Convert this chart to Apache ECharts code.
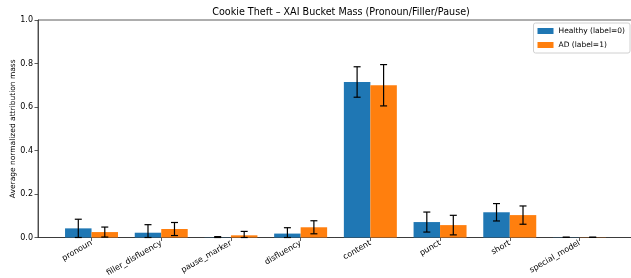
<!DOCTYPE html>
<html><head><meta charset="utf-8">
<script src="https://cdn.jsdelivr.net/npm/echarts@6/dist/echarts.min.js"></script>
<style>html,body{margin:0;padding:0;background:#fff}#c{width:631px;height:278px}</style>
</head><body><div id="c"></div>
<script>
const categories = ['pronoun','filler_disfluency','pause_marker','disfluency','content','punct','short','special_model'];
const healthyMean = [0.042, 0.022, 0.001, 0.018, 0.715, 0.071, 0.116, 0.001];
const healthyStd  = [0.042, 0.037, 0.003, 0.027, 0.070, 0.046, 0.040, 0.000];
const adMean      = [0.025, 0.039, 0.010, 0.047, 0.700, 0.057, 0.103, 0.001];
const adStd       = [0.023, 0.030, 0.018, 0.030, 0.095, 0.045, 0.042, 0.000];
const yTicks = [0, 0.2, 0.4, 0.6, 0.8, 1.0];
const seriesNames = ['Healthy (label=0)', 'AD (label=1)'];
const colors = ['#1f77b4', '#ff7f0e'];
const BAR_W = 0.38;

function barSeries(name, means, offset, color){
  return {
    type:'custom', name:name, itemStyle:{color:color},
    data: means.map((v,i)=>[i, v]),
    encode:{x:0,y:1},
    renderItem:function(params, api){
      const x = api.value(0) + offset, v = api.value(1);
      const p0 = api.coord([x - BAR_W/2, v]);
      const p1 = api.coord([x + BAR_W/2, 0]);
      return {type:'rect', shape:{x:p0[0], y:p0[1], width:p1[0]-p0[0], height:p1[1]-p0[1]},
        style:{fill:color}};
    }
  };
}
function errSeries(means, stds, offset){
  return {
    type:'custom', silent:true, z:5,
    data: means.map((v,i)=>[i, v, stds[i]]),
    renderItem:function(params, api){
      const x = api.value(0) + offset, v = api.value(1), e = api.value(2);
      const top = api.coord([x, Math.min(1, v + e)]);
      const bot = api.coord([x, Math.max(0, v - e)]);
      const cap = 3.5;
      const st = {stroke:'#000', lineWidth:1.2};
      return {type:'group', children:[
        {type:'line', shape:{x1:top[0], y1:top[1], x2:bot[0], y2:bot[1]}, style:st},
        {type:'line', shape:{x1:top[0]-cap, y1:top[1], x2:top[0]+cap, y2:top[1]}, style:st},
        {type:'line', shape:{x1:bot[0]-cap, y1:bot[1], x2:bot[0]+cap, y2:bot[1]}, style:st}
      ]};
    }
  };
}

const chart = echarts.init(document.getElementById('c'), null, {renderer:'canvas'});
chart.setOption({
  animation:false,
  textStyle:{fontFamily:'DejaVu Sans'},
  title:{text:'Cookie Theft – XAI Bucket Mass (Pronoun/Filler/Pause)', left:336, top:2, textAlign:'center',
    textStyle:{fontFamily:'DejaVu Sans', fontSize:9.6, fontWeight:'normal', color:'#000'}},
  legend:{
    orient:'vertical', right:1, top:23,
    data: seriesNames.map((n,i)=>({name:n, icon:'rect', itemStyle:{color:colors[i]}})),
    itemWidth:16, itemHeight:6, itemGap:6,
    padding:[4,5,4,4],
    backgroundColor:'#fff', borderColor:'#d0d0d0', borderWidth:1, borderRadius:2,
    textStyle:{fontFamily:'DejaVu Sans', fontSize:7.5, color:'#000', padding:[0,0,0,0]}
  },
  grid:{left:38, right:-2, top:20, bottom:40.5, outerBoundsMode:'none', containLabel:false,
    show:true, borderColor:'#333', borderWidth:0.8, backgroundColor:'transparent'},
  xAxis:{
    type:'value', min:-0.768, max:7.768,
    axisLine:{show:true, onZero:false, lineStyle:{color:'#333', width:0.8}},
    axisTick:{show:true, customValues:categories.map((c,i)=>i), length:3.5, lineStyle:{color:'#333', width:0.8}},
    splitLine:{show:false},
    axisLabel:{customValues:categories.map((c,i)=>i), formatter:(v)=>categories[Math.round(v)], rotate:30, margin:5,
      fontFamily:'DejaVu Sans', fontSize:8, color:'#000'}
  },
  yAxis:{
    type:'value', min:0, max:1, interval:0.2,
    name:'Average normalized attribution mass', nameLocation:'middle', nameGap:21, nameMoveOverlap:false,
    nameTextStyle:{fontFamily:'DejaVu Sans', fontSize:7.5, color:'#000'},
    axisLine:{show:true, onZero:false, lineStyle:{color:'#333', width:0.8}},
    axisTick:{show:true, length:3.5, lineStyle:{color:'#333', width:0.8}},
    splitLine:{show:false},
    axisLabel:{formatter:(v)=>v.toFixed(1), margin:5, fontFamily:'DejaVu Sans', fontSize:8, color:'#000'}
  },
  series:[
    barSeries(seriesNames[0], healthyMean, -BAR_W/2, colors[0]),
    barSeries(seriesNames[1], adMean, BAR_W/2, colors[1]),
    errSeries(healthyMean, healthyStd, -BAR_W/2),
    errSeries(adMean, adStd, BAR_W/2)
  ]
});
</script></body></html>
